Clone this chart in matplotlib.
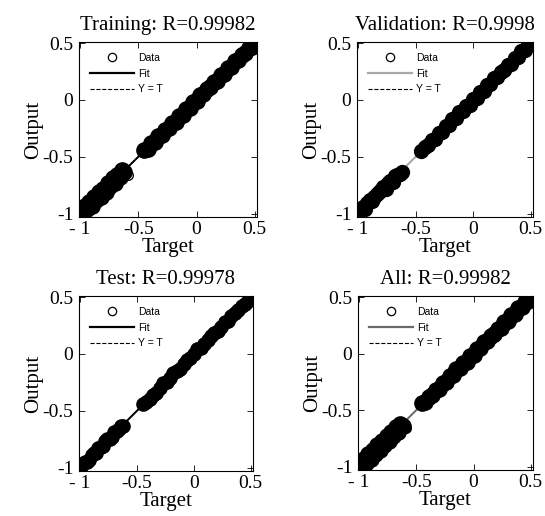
import matplotlib
matplotlib.use("Agg")
import matplotlib.pyplot as plt
from matplotlib.lines import Line2D

# target grid (two clusters, gap between -0.62 and -0.45)
targets = [-1.00, -0.98, -0.96, -0.94, -0.92, -0.90, -0.88, -0.86, -0.84, -0.82,
           -0.80, -0.78, -0.76, -0.74, -0.72, -0.70, -0.68, -0.66, -0.64, -0.62,
           -0.45, -0.42, -0.39, -0.36, -0.33, -0.30, -0.27, -0.24, -0.21, -0.18,
           -0.15, -0.12, -0.09, -0.06, -0.03, 0.00, 0.03, 0.06, 0.09, 0.12,
           0.15, 0.18, 0.21, 0.24, 0.27, 0.30, 0.33, 0.36, 0.39, 0.42,
           0.45, 0.48, 0.51]

out_train = [-0.99, -1.01, -0.93, -0.96, -0.90, -0.93, -0.85, -0.88, -0.81, -0.85,
             -0.78, -0.81, -0.73, -0.76, -0.69, -0.73, -0.66, -0.68, -0.62, -0.63,
             -0.44, -0.43, -0.38, -0.37, -0.32, -0.31, -0.26, -0.25, -0.20, -0.19,
             -0.14, -0.13, -0.08, -0.07, -0.02, -0.01, 0.04, 0.05, 0.10, 0.11,
             0.16, 0.17, 0.22, 0.23, 0.28, 0.29, 0.34, 0.35, 0.40, 0.41,
             0.46, 0.47, 0.51]
out_val = [-1.01, -0.97, -0.94, -0.96, -0.91, -0.88, -0.89, -0.85, -0.83, -0.81,
           -0.79, -0.77, -0.78, -0.73, -0.71, -0.72, -0.67, -0.66, -0.65, -0.63,
           -0.45, -0.41, -0.40, -0.35, -0.34, -0.29, -0.28, -0.23, -0.22, -0.17,
           -0.16, -0.11, -0.10, -0.05, -0.04, 0.01, 0.02, 0.07, 0.08, 0.13,
           0.14, 0.19, 0.20, 0.25, 0.26, 0.31, 0.32, 0.37, 0.38, 0.43,
           0.44, 0.49, 0.50]
out_test = [-1.02, -0.97, -0.95, -0.95, -0.93, -0.89, -0.87, -0.87, -0.83, -0.82,
            -0.81, -0.77, -0.75, -0.75, -0.73, -0.69, -0.68, -0.66, -0.63, -0.63,
            -0.44, -0.42, -0.40, -0.36, -0.34, -0.30, -0.26, -0.25, -0.21, -0.17,
            -0.15, -0.13, -0.09, -0.05, -0.04, 0.00, 0.04, 0.05, 0.09, 0.12,
            0.16, 0.18, 0.20, 0.24, 0.28, 0.29, 0.33, 0.36, 0.39, 0.42,
            0.44, 0.47, 0.50]
out_all = [-0.98, -1.01, -0.93, -0.97, -0.89, -0.93, -0.85, -0.89, -0.81, -0.85,
           -0.77, -0.81, -0.73, -0.77, -0.69, -0.73, -0.65, -0.69, -0.62, -0.64,
           -0.44, -0.43, -0.38, -0.37, -0.32, -0.31, -0.26, -0.25, -0.20, -0.19,
           -0.14, -0.13, -0.08, -0.07, -0.02, -0.01, 0.04, 0.05, 0.10, 0.11,
           0.16, 0.17, 0.22, 0.23, 0.28, 0.29, 0.34, 0.35, 0.40, 0.41,
           0.46, 0.47, 0.51]

# isolated points visible as single open circles
extra_train = ([-0.59, -1.00, 0.51], [-0.66, -1.02, 0.52])
extra_val = ([0.51, -0.99], [0.52, -1.02])
extra_test = ([0.52, -1.00], [0.53, -1.04])
extra_all = ([-0.59, -1.00, 0.51], [-0.66, -1.02, 0.52])

fit_x = [-1.0, 0.51]
titles = ["Training: R=0.99982", "Validation: R=0.9998", "Test: R=0.99978", "All: R=0.99982"]
fit_colors = ["black", "#a8a8a8", "black", "#6a6a6a"]
band_sizes = [11, 10, 9.5, 11]

xticks = [-1, -0.5, 0, 0.5]
xticklabels = ["- 1", "-0.5", "0", "0.5"]
yticks = [-1, -0.5, 0, 0.5]
yticklabels = ["-1", "-0.5", "0", "0.5"]

W, H = 545, 516
fig = plt.figure(figsize=(W / 100, H / 100), dpi=100)

# pixel boxes: left, top, right, bottom
boxes = [(79, 42, 257, 217), (357, 42, 533, 217),
         (79, 296, 253, 471), (358, 296, 533, 470)]
outs = [out_train, out_val, out_test, out_all]
extras = [extra_train, extra_val, extra_test, extra_all]

serif = "Liberation Serif"
sans = "Liberation Sans"

for box, out, extra, title, fc, ms in zip(boxes, outs, extras, titles, fit_colors, band_sizes):
    l, t, r, b = box
    ax = fig.add_axes([l / W, 1 - b / H, (r - l) / W, (b - t) / H])
    ax.plot([-1.1, 0.6], [-1.1, 0.6], ls="--", color="black", lw=0.8, zorder=1)
    ax.plot(fit_x, fit_x, "-", color=fc, lw=1.4, zorder=2)
    # the overlapping circles merge into a solid band
    ax.plot(targets, out, "o", mfc="black", mec="black", ms=ms, mew=1.0, zorder=3)
    ax.plot(extra[0], extra[1], "o", mfc="none", mec="black", ms=7, mew=0.9, zorder=3)
    ax.set_xlim(-1.01, 0.52)
    ax.set_ylim(-1.03, 0.51)
    ax.set_xticks(xticks)
    ax.set_xticklabels(xticklabels, fontfamily=serif, fontsize=14)
    ax.set_yticks(yticks)
    ax.set_yticklabels(yticklabels, fontfamily=serif, fontsize=14)
    ax.tick_params(direction="in", top=True, right=True, length=4, width=0.6)
    ax.tick_params(axis="x", pad=3)
    ax.tick_params(axis="y", pad=4)
    for s in ax.spines.values():
        s.set_linewidth(0.8)
    ax.set_title(title, fontfamily=serif, fontsize=15, pad=9)
    ax.set_xlabel("Target", fontfamily=serif, fontsize=15, labelpad=0)
    ax.set_ylabel("Output", fontfamily=serif, fontsize=15, labelpad=0)

    handles = [Line2D([], [], ls="none", marker="o", mfc="none", mec="black", ms=6, mew=0.9),
               Line2D([], [], color=fc, lw=1.6),
               Line2D([], [], color="black", lw=0.8, ls="--")]
    ax.legend(handles, ["Data", "Fit", "Y = T"], loc="upper left", frameon=False,
              prop={"family": sans, "size": 7.5}, handlelength=4.2, handletextpad=0.4,
              labelspacing=0.55, borderaxespad=0.3, bbox_to_anchor=(0.02, 0.98))

fig.savefig("out.png", dpi=100)
